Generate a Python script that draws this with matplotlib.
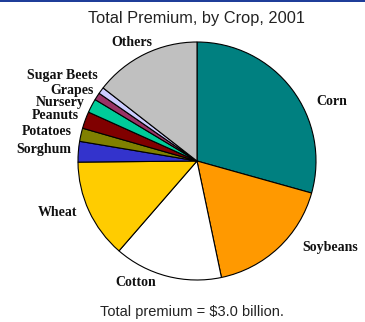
import matplotlib
matplotlib.use("Agg")
import matplotlib.pyplot as plt
from matplotlib.patches import Rectangle

# Share of total premium (%), clockwise from 12 o'clock
crops = ['Corn', 'Soybeans', 'Cotton', 'Wheat', 'Sorghum', 'Potatoes',
         'Peanuts', 'Nursery', 'Grapes', 'Sugar Beets', 'Others']
shares = [29.4, 17.4, 14.7, 13.5, 2.8, 1.8, 2.3, 1.9, 1.0, 0.9, 14.5]
colors = ['#008080', '#FF9900', '#FFFFFF', '#FFCC00', '#3333CC', '#808000',
          '#800000', '#00CC99', '#993366', '#CCCCFF', '#C0C0C0']

# label anchor positions (pixels from top-left)
label_pos = {
    'Corn': (332, 101), 'Soybeans': (330, 248), 'Cotton': (136, 283),
    'Wheat': (58, 213), 'Sorghum': (44, 149), 'Potatoes': (47, 131),
    'Peanuts': (55, 115), 'Nursery': (60, 102), 'Grapes': (72, 90),
    'Sugar Beets': (62, 75), 'Others': (132, 42),
}

W, H = 365, 322
fig = plt.figure(figsize=(W / 100, H / 100), dpi=100)
ax = fig.add_axes([0, 0, 1, 1])

ax.pie(shares, colors=colors, startangle=90, counterclock=False,
       center=(197, H - 161), radius=119,
       wedgeprops=dict(edgecolor='black', linewidth=0.8))
ax.set_xlim(0, W)
ax.set_ylim(0, H)
ax.set_aspect('equal')
ax.axis('off')

for name in crops:
    x, y = label_pos[name]
    ax.text(x, H - y, name, ha='center', va='center', fontsize=10,
            fontweight='bold', family='Liberation Serif', color='#111111')

ax.text(W / 2 + 14, H - 18, 'Total Premium, by Crop, 2001', ha='center',
        va='center', fontsize=11.8, family='Liberation Sans', color='#222222')
ax.text(W / 2 + 9, H - 312, 'Total premium = $3.0 billion.', ha='center',
        va='center', fontsize=10.5, family='Liberation Sans', color='#222222')

# thin blue rule along the top edge
fig.patches.append(Rectangle((0, 1 - 2 / H), 1, 2 / H, transform=fig.transFigure,
                             facecolor='#1F3D99', edgecolor='none'))

fig.savefig('out.png', dpi=100)
